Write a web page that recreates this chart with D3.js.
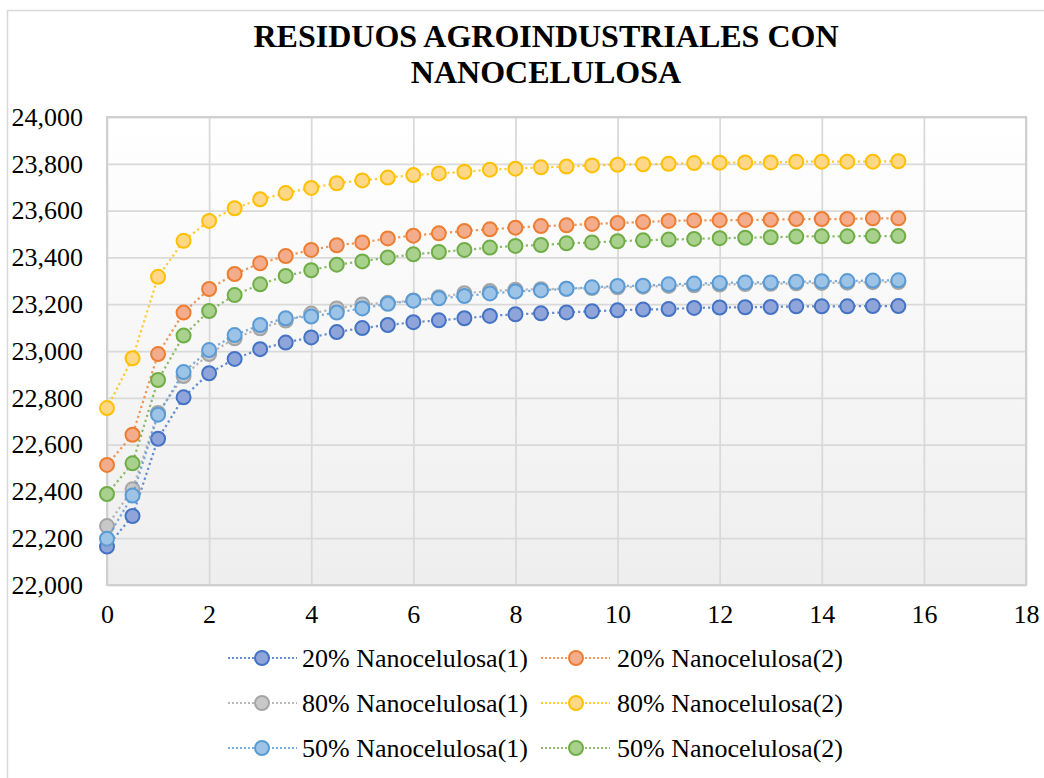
<!DOCTYPE html>
<html>
<head>
<meta charset="utf-8">
<script src="https://cdn.jsdelivr.net/npm/d3@7/dist/d3.min.js"></script>
<style>
  html, body { margin: 0; padding: 0; background: #ffffff; }
  svg { display: block; }
  text { font-family: "Liberation Serif", "Times New Roman", serif; fill: #000; }
</style>
</head>
<body>
<svg id="chart" width="1044" height="778"></svg>
<script>
// Tiempo (eje X)
const xValues = [0, 0.5, 1, 1.5, 2, 2.5, 3, 3.5, 4, 4.5, 5, 5.5, 6, 6.5, 7, 7.5,
                 8, 8.5, 9, 9.5, 10, 10.5, 11, 11.5, 12, 12.5, 13, 13.5, 14, 14.5, 15, 15.5];

// Series
const nano20_1 = [22164, 22295, 22625, 22802, 22905, 22966, 23008, 23036, 23058, 23081, 23098, 23111, 23123, 23131, 23140, 23150,
                  23157, 23161, 23165, 23170, 23174, 23177, 23179, 23184, 23186, 23187, 23188, 23191, 23191, 23191, 23192, 23192];
const nano20_2 = [22513, 22642, 22987, 23164, 23265, 23329, 23375, 23406, 23432, 23452, 23464, 23481, 23493, 23503, 23513, 23520,
                  23527, 23534, 23537, 23543, 23547, 23551, 23556, 23558, 23559, 23560, 23561, 23564, 23564, 23564, 23567, 23567];
const nano80_1 = [22252, 22409, 22735, 22893, 22987, 23054, 23097, 23130, 23160, 23182, 23199, 23206, 23216, 23230, 23247, 23256,
                  23262, 23264, 23266, 23269, 23272, 23275, 23278, 23281, 23284, 23286, 23287, 23289, 23291, 23292, 23294, 23295];
const nano80_2 = [22756, 22969, 23317, 23471, 23556, 23610, 23648, 23675, 23697, 23717, 23729, 23741, 23752, 23759, 23766, 23775,
                  23779, 23785, 23788, 23793, 23796, 23798, 23800, 23803, 23805, 23806, 23806, 23809, 23809, 23809, 23809, 23811];
const nano50_1 = [22198, 22382, 22728, 22910, 23004, 23068, 23111, 23140, 23147, 23164, 23182, 23202, 23215, 23225, 23235, 23246,
                  23254, 23259, 23266, 23272, 23278, 23279, 23285, 23288, 23291, 23293, 23293, 23296, 23298, 23299, 23301, 23302];
const nano50_2 = [22389, 22520, 22876, 23066, 23171, 23239, 23285, 23321, 23345, 23369, 23383, 23400, 23413, 23423, 23432, 23442,
                  23449, 23453, 23460, 23464, 23469, 23473, 23476, 23479, 23482, 23484, 23486, 23489, 23490, 23490, 23491, 23491];

const seriesNames = ["20% Nanocelulosa(1)", "20% Nanocelulosa(2)", "80% Nanocelulosa(1)",
                     "80% Nanocelulosa(2)", "50% Nanocelulosa(1)", "50% Nanocelulosa(2)"];
const seriesValues = [nano20_1, nano20_2, nano80_1, nano80_2, nano50_1, nano50_2];

const xTicks = [0, 2, 4, 6, 8, 10, 12, 14, 16, 18];
const yTicks = [22000, 22200, 22400, 22600, 22800, 23000, 23200, 23400, 23600, 23800, 24000];

const titleLines = ["RESIDUOS AGROINDUSTRIALES CON", "NANOCELULOSA"];

// Estilos de cada serie: borde del marcador, relleno
const strokes = ["#4472c4", "#ed7d31", "#a5a5a5", "#ffc000", "#5b9bd5", "#70ad47"];
const fills   = ["#8fa5d9", "#f4ad8c", "#c8c8c8", "#ffd787", "#9dc3e6", "#a9d18e"];

const svg = d3.select("#chart");

// Marco exterior del gráfico
svg.append("rect")
  .attr("x", 7.5).attr("y", 10.5)
  .attr("width", 1100).attr("height", 800)
  .attr("fill", "#ffffff")
  .attr("stroke", "#d9d9d9").attr("stroke-width", 1.5);

const plot = { left: 107, top: 117, right: 1026, bottom: 585 };

const x = d3.scaleLinear().domain([0, 18]).range([plot.left, plot.right]);
const y = d3.scaleLinear().domain([22000, 24000]).range([plot.bottom, plot.top]);

// Fondo degradado del área de trazado
const defs = svg.append("defs");
const grad = defs.append("linearGradient")
  .attr("id", "plotBg").attr("x1", 0).attr("y1", 0).attr("x2", 0).attr("y2", 1);
grad.append("stop").attr("offset", "0%").attr("stop-color", "#ffffff");
grad.append("stop").attr("offset", "100%").attr("stop-color", "#eeeeee");

svg.append("rect")
  .attr("x", plot.left).attr("y", plot.top)
  .attr("width", plot.right - plot.left).attr("height", plot.bottom - plot.top)
  .attr("fill", "url(#plotBg)");

// Cuadrícula
const gridX = svg.append("g")
  .attr("transform", `translate(0,${plot.bottom})`)
  .call(d3.axisBottom(x).tickValues(xTicks).tickSize(-(plot.bottom - plot.top)).tickFormat(""));
const gridY = svg.append("g")
  .attr("transform", `translate(${plot.left},0)`)
  .call(d3.axisLeft(y).tickValues(yTicks).tickSize(-(plot.right - plot.left)).tickFormat(""));
[gridX, gridY].forEach(g => {
  g.select(".domain").remove();
  g.selectAll("line").attr("stroke", "#d9d9d9").attr("stroke-width", 1.75);
});

// Borde del área de trazado
svg.append("rect")
  .attr("x", plot.left).attr("y", plot.top)
  .attr("width", plot.right - plot.left).attr("height", plot.bottom - plot.top)
  .attr("fill", "none").attr("stroke", "#d0d0d0").attr("stroke-width", 2);

// Etiquetas de los ejes
const axX = svg.append("g")
  .attr("transform", `translate(0,${plot.bottom})`)
  .call(d3.axisBottom(x).tickValues(xTicks).tickSize(0).tickPadding(20).tickFormat(d3.format("d")));
const axY = svg.append("g")
  .attr("transform", `translate(${plot.left},0)`)
  .call(d3.axisLeft(y).tickValues(yTicks).tickSize(0).tickPadding(24).tickFormat(d3.format(",")));
[axX, axY].forEach(g => {
  g.select(".domain").remove();
  g.selectAll("text")
    .style("font-family", '"Liberation Serif", "Times New Roman", serif')
    .style("font-size", "26px").attr("fill", "#000");
});

// Líneas punteadas y marcadores
const line = d3.line().x((d, i) => x(xValues[i])).y(d => y(d));

seriesValues.forEach((vals, s) => {
  const g = svg.append("g");
  g.append("path")
    .datum(vals)
    .attr("d", line)
    .attr("fill", "none")
    .attr("stroke", strokes[s])
    .attr("stroke-opacity", 0.8)
    .attr("stroke-width", 2.25)
    .attr("stroke-dasharray", "2.2,3");
  g.selectAll("circle")
    .data(vals)
    .join("circle")
    .attr("cx", (d, i) => x(xValues[i]))
    .attr("cy", d => y(d))
    .attr("r", 7)
    .attr("fill", fills[s])
    .attr("stroke", strokes[s])
    .attr("stroke-width", 2);
});

// Título
svg.append("text")
  .attr("x", 546).attr("text-anchor", "middle")
  .style("font-size", "32px").style("font-weight", "bold")
  .selectAll("tspan")
  .data(titleLines)
  .join("tspan")
  .attr("x", 546)
  .attr("y", (d, i) => 47 + i * 36)
  .text(d => d);

// Leyenda (3 filas x 2 columnas)
const legendCols = [{ x0: 228, x1: 297, mx: 262, tx: 302 }, { x0: 541, x1: 610, mx: 576, tx: 617 }];
const legendRows = [658, 703, 748];

seriesNames.forEach((name, s) => {
  const col = legendCols[s % 2];
  const rowY = legendRows[Math.floor(s / 2)];
  const g = svg.append("g");
  g.append("line")
    .attr("x1", col.x0).attr("x2", col.x1)
    .attr("y1", rowY).attr("y2", rowY)
    .attr("stroke", strokes[s]).attr("stroke-opacity", 0.8)
    .attr("stroke-width", 2).attr("stroke-dasharray", "2,2");
  g.append("circle")
    .attr("cx", col.mx).attr("cy", rowY).attr("r", 7)
    .attr("fill", fills[s]).attr("stroke", strokes[s]).attr("stroke-width", 2);
  g.append("text")
    .attr("x", col.tx).attr("y", rowY).attr("dy", "0.33em")
    .style("font-size", "26px")
    .text(name);
});
</script>
</body>
</html>
